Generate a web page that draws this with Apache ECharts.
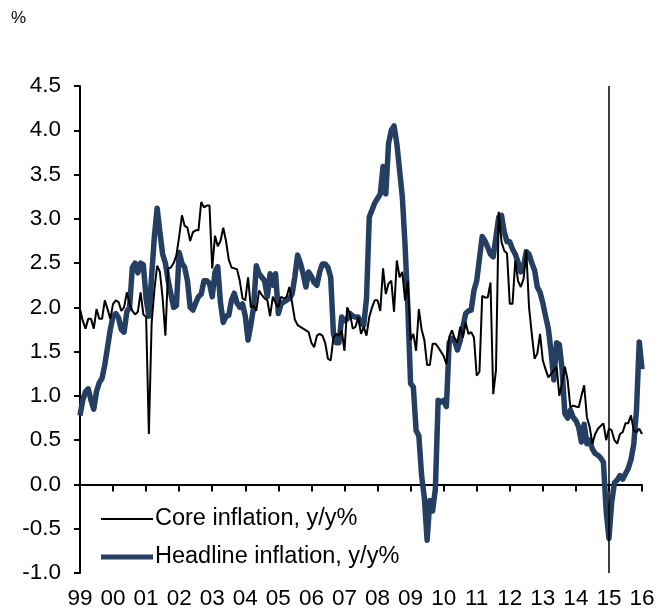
<!DOCTYPE html>
<html>
<head>
<meta charset="utf-8">
<script src="https://cdn.jsdelivr.net/npm/echarts@6.0.0/dist/echarts.min.js"></script>
<style>
html, body { margin: 0; padding: 0; background: #fff; }
#chart { width: 659px; height: 616px; }
</style>
</head>
<body>
<div id="chart"></div>
<script>
// monthly, Jan 1999 .. Jan 2016
var yearLabels = ['99', '00', '01', '02', '03', '04', '05', '06', '07', '08',
    '09', '10', '11', '12', '13', '14', '15', '16'];

var headline = [
    0.78, 0.95, 1.05, 1.08, 0.95, 0.85, 1.05, 1.15, 1.2, 1.35, 1.55, 1.75,
    1.9, 1.93, 1.88, 1.75, 1.72, 1.95, 2.0, 2.45, 2.5, 2.39, 2.5, 2.48,
    2.1, 1.9, 2.35, 2.8, 3.12, 2.85, 2.6, 2.5, 2.3, 2.15, 2.0, 2.02,
    2.62, 2.5, 2.45, 2.3, 2.0, 1.97, 2.05, 2.12, 2.15, 2.3, 2.3, 2.27,
    2.12, 2.4, 2.46, 2.05, 1.83, 1.9, 1.91, 2.08, 2.16, 2.05, 2.0, 2.04,
    1.9, 1.63, 1.8, 2.0, 2.47, 2.38, 2.34, 2.3, 2.12, 2.38, 2.25, 2.38,
    1.93, 2.04, 2.06, 2.08, 2.1, 2.15, 2.35, 2.59, 2.5, 2.38, 2.23, 2.4,
    2.35, 2.28, 2.25, 2.4, 2.49, 2.49, 2.45, 2.34, 1.7, 1.6, 1.6, 1.89,
    1.85, 1.87, 1.93, 1.9, 1.89, 1.89, 1.82, 1.8, 2.1, 3.02, 3.1, 3.18,
    3.23, 3.28, 3.59, 3.28, 3.85, 4.0, 4.05, 3.85, 3.55, 3.25, 2.7, 2.0,
    1.14, 1.1, 0.61, 0.55, 0.1, -0.15, -0.63, -0.18, -0.3, -0.05, 0.95, 0.93,
    0.95, 0.88, 1.6, 1.65, 1.62, 1.52, 1.62, 1.78, 1.93, 1.96, 1.97, 2.19,
    2.3, 2.55, 2.8, 2.75, 2.68, 2.6, 2.57, 2.8, 3.02, 3.04, 2.85, 2.74,
    2.74, 2.66, 2.6, 2.51, 2.4, 2.47, 2.63, 2.6, 2.5, 2.42, 2.23, 2.17,
    2.05, 1.9, 1.76, 1.5, 1.18, 1.6, 1.58, 1.3, 0.8, 0.75, 0.84, 0.76,
    0.72, 0.65, 0.48, 0.68, 0.46, 0.5, 0.4, 0.35, 0.33, 0.3, 0.25, -0.3,
    -0.61, -0.2, 0.02, 0.05, 0.1, 0.06, 0.12, 0.18, 0.28, 0.45, 0.84, 1.61,
    1.3
];

var core = [
    1.98, 1.85, 1.76, 1.87, 1.87, 1.76, 1.98, 1.87, 1.87, 2.08, 1.98, 1.87,
    2.04, 2.08, 2.06, 1.96, 2.0, 2.17, 2.04, 1.96, 1.92, 1.95, 2.17, 1.92,
    1.89, 0.57, 1.82, 2.2, 2.47, 2.4, 2.1, 1.68, 2.44, 2.45, 2.5, 2.59,
    2.8, 3.04, 2.92, 2.9, 2.75, 2.85, 2.87, 2.87, 3.19, 3.13, 3.15, 3.15,
    2.44, 2.81, 2.69, 2.75, 2.9, 2.75, 2.54, 2.45, 2.44, 2.43, 2.3, 2.1,
    2.08, 2.34, 2.0, 2.02, 1.96, 2.19, 2.14, 2.1, 2.08, 1.9, 2.12, 2.05,
    2.0, 2.12, 2.1, 2.12, 2.23, 2.05, 1.86, 1.8, 1.78, 1.76, 1.74, 1.72,
    1.6, 1.55, 1.68, 1.7, 1.68, 1.6, 1.42, 1.4, 1.66, 1.7, 1.68, 1.74,
    1.51, 2.0, 1.93, 1.76, 1.78, 1.89, 1.7, 1.78, 1.68, 1.89, 2.0, 2.08,
    2.08, 1.96, 2.44, 2.15, 2.27, 2.3, 1.95, 2.53, 2.34, 2.4, 2.08, 2.3,
    1.63, 1.7, 1.51, 1.98, 1.75, 1.63, 1.35, 1.35, 1.59, 1.59, 1.55, 1.5,
    1.45, 1.36, 1.66, 1.74, 1.65, 1.6, 1.78, 1.66, 1.83, 1.7, 1.72, 1.66,
    1.23, 1.27, 2.13, 2.11, 2.11, 2.28, 1.02, 1.29, 3.08, 2.74, 2.64, 2.61,
    2.04, 2.04, 2.53, 2.3, 2.23, 2.32, 2.64, 2.0, 1.7, 1.42, 1.48, 1.7,
    1.4, 1.3, 1.21, 1.25, 1.29, 1.33, 1.0, 1.15, 1.33, 1.18, 0.87, 0.89,
    0.88, 0.87, 1.0, 1.12, 0.76, 0.65, 0.46, 0.57, 0.63, 0.66, 0.69, 0.5,
    0.63, 0.61, 0.5, 0.46, 0.57, 0.59, 0.69, 0.69, 0.78, 0.61, 0.59, 0.63,
    0.57
];

var markerMonth = 192; // Jan 2015

var fontFamily = 'Liberation Sans, Arial, sans-serif';
var lastMonth = (yearLabels.length - 1) * 12;
var navy = '#253f62';

function toPairs(arr) {
    return arr.map(function (v, i) { return [i, v]; });
}

// one legend per series so each swatch can have its own thickness
function legendFor(name, top, thick, color) {
    return {
        orient: 'vertical',
        left: 96,
        top: top,
        selectedMode: false,
        icon: 'rect',
        itemWidth: 52,
        itemHeight: thick,
        itemStyle: { color: color, borderWidth: 0 },
        textStyle: { fontSize: 23.5, color: '#000', fontFamily: fontFamily, padding: [0, 0, 0, -3] },
        data: [name]
    };
}

var myChart = echarts.init(document.getElementById('chart'));

var option = {
    animation: false,
    backgroundColor: '#fff',
    textStyle: { fontFamily: fontFamily },
    title: {
        text: '%',
        left: 6,
        top: 5,
        textStyle: { fontSize: 17, fontWeight: 'normal', color: '#000', fontFamily: fontFamily }
    },
    grid: { left: 80, right: 17, top: 86, bottom: 43 },
    legend: [
        legendFor('Core inflation, y/y%', 502, 2, '#000'),
        legendFor('Headline inflation, y/y%', 540, 5, navy)
    ],
    xAxis: [
        {
            type: 'value',
            min: 0,
            max: lastMonth,
            interval: 12,
            axisLine: { onZero: true, lineStyle: { color: '#000', width: 2 } },
            axisTick: { length: 7, lineStyle: { color: '#000', width: 2 } },
            axisLabel: { show: false },
            splitLine: { show: false }
        },
        {
            type: 'value',
            min: 0,
            max: lastMonth,
            interval: 12,
            position: 'bottom',
            axisLine: { show: false, onZero: false },
            axisTick: { show: false },
            axisLabel: {
                margin: 14,
                fontSize: 22.5,
                color: '#000',
                fontFamily: fontFamily,
                formatter: function (v) { return yearLabels[Math.round(v / 12)]; }
            },
            splitLine: { show: false }
        }
    ],
    yAxis: {
        type: 'value',
        min: -1,
        max: 4.5,
        interval: 0.5,
        axisLine: { show: true, onZero: false, lineStyle: { color: '#000', width: 2 } },
        axisTick: { show: true, length: 6, lineStyle: { color: '#000', width: 2 } },
        axisLabel: {
            margin: 19,
            fontSize: 22.5,
            color: '#000',
            fontFamily: fontFamily,
            formatter: function (v) { return v.toFixed(1); }
        },
        splitLine: { show: false }
    },
    series: [
        {
            name: 'Headline inflation, y/y%',
            type: 'line',
            symbol: 'none',
            data: toPairs(headline),
            color: navy,
            lineStyle: { color: navy, width: 5.5, join: 'round' },
            z: 2
        },
        {
            name: 'Core inflation, y/y%',
            type: 'line',
            symbol: 'none',
            data: toPairs(core),
            color: '#000',
            lineStyle: { color: '#000', width: 2 },
            z: 3,
            markLine: {
                silent: true,
                symbol: 'none',
                label: { show: false },
                lineStyle: { color: '#000', width: 1.5, type: 'solid' },
                data: [{ xAxis: markerMonth }]
            }
        }
    ]
};

myChart.setOption(option);
window.addEventListener("resize", function () {
    myChart.resize();
});
</script>
</body>
</html>
